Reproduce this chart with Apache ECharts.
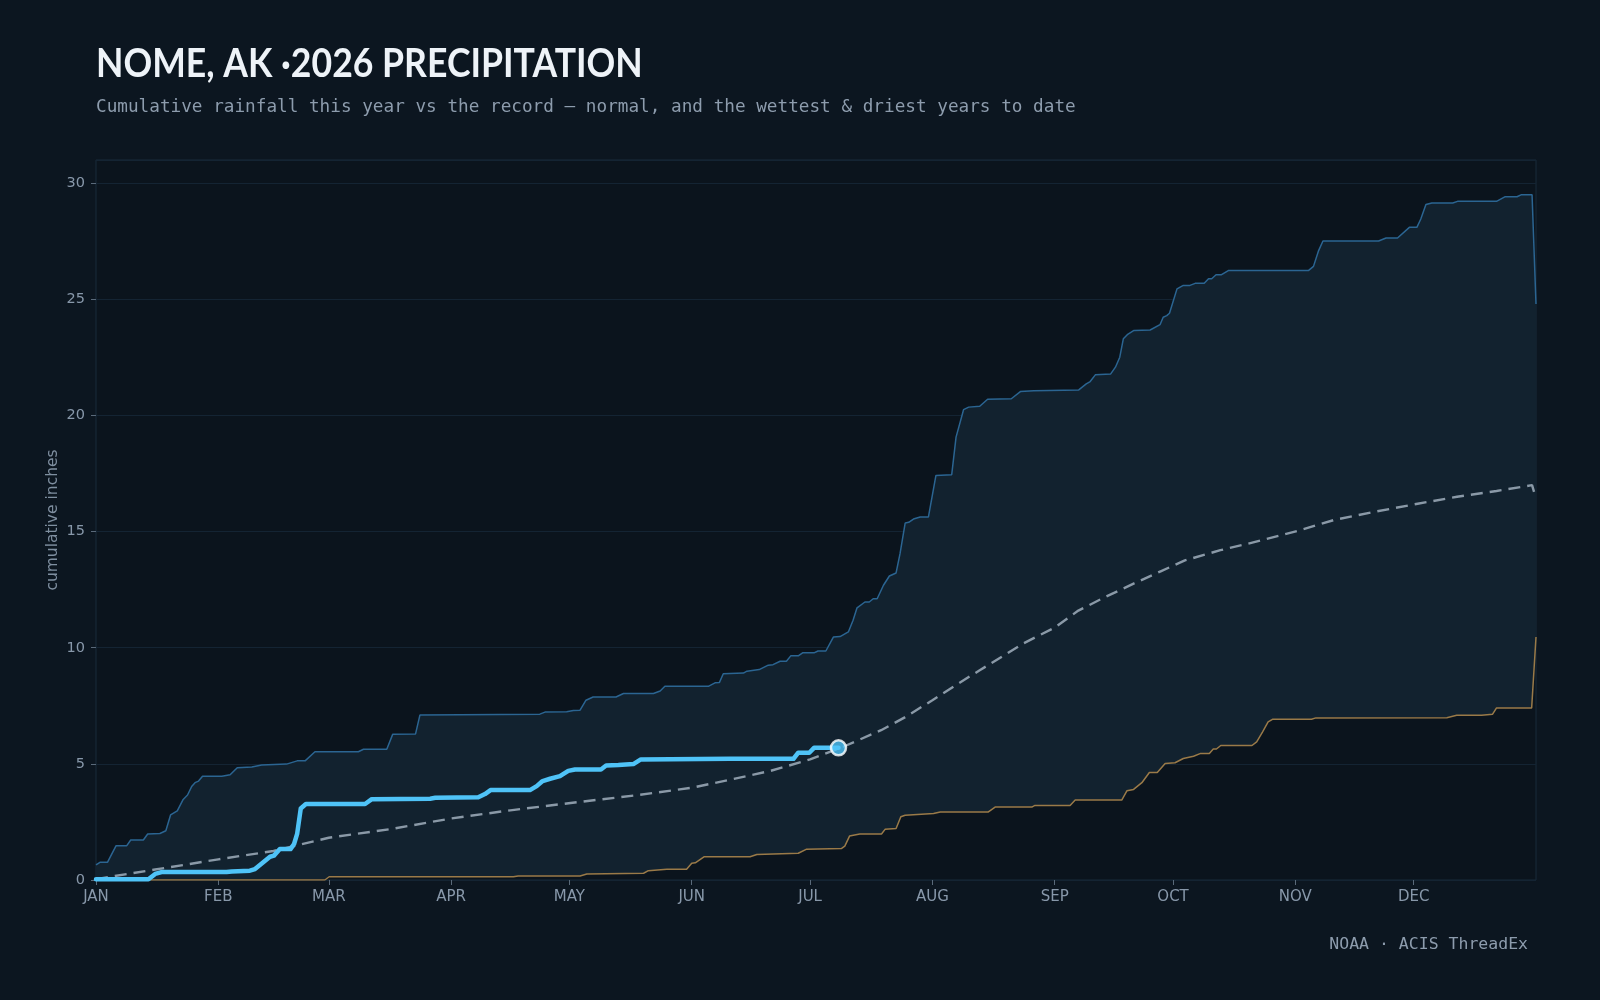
<!DOCTYPE html>
<html>
<head>
<meta charset="utf-8">
<script src="https://cdn.jsdelivr.net/npm/echarts@6/dist/echarts.min.js"></script>
<style>
  html, body { margin: 0; padding: 0; background: #0c1620; }
  #chart { width: 1600px; height: 1000px; }
</style>
</head>
<body>
<div id="chart"></div>
<script>
// day of year (0 = Jan 1) vs cumulative inches
const monthStarts = [0, 31, 59, 90, 120, 151, 181, 212, 243, 273, 304, 334];
const monthNames = ['JAN', 'FEB', 'MAR', 'APR', 'MAY', 'JUN', 'JUL', 'AUG', 'SEP', 'OCT', 'NOV', 'DEC'];

const wettest = [
  [0, 0.65], [1, 0.76], [2.9, 0.76], [5.1, 1.48], [7.8, 1.48], [8.8, 1.72], [12, 1.72], [13.1, 1.98],
  [16.2, 2.0], [17.7, 2.12], [18.9, 2.8], [20.6, 2.98], [22.1, 3.47], [23.2, 3.66], [24.3, 4.04],
  [25.1, 4.19], [26, 4.26], [27, 4.47], [31.9, 4.47], [34, 4.53], [35.8, 4.83], [39.5, 4.87], [42, 4.95],
  [48.3, 4.99], [51, 5.13], [53, 5.13], [55.5, 5.52], [66.5, 5.52], [67.8, 5.63], [73.7, 5.63],
  [75.2, 6.27], [81, 6.29], [82.1, 7.1], [112.5, 7.14], [113.8, 7.23], [119.3, 7.24], [121, 7.3],
  [122.7, 7.31], [124.2, 7.74], [126, 7.88], [131.8, 7.88], [133.7, 8.03], [141.3, 8.03], [143, 8.14],
  [144.2, 8.34], [155.2, 8.34], [156.9, 8.49], [158, 8.5], [159, 8.88], [164.1, 8.91], [165, 8.99],
  [168.1, 9.06], [170.4, 9.25], [171.6, 9.27], [173.4, 9.42], [175, 9.42], [176.1, 9.65], [178, 9.65],
  [179.1, 9.78], [182, 9.78], [183, 9.86], [185, 9.86], [186.9, 10.46], [188.6, 10.48], [190.7, 10.68],
  [191.9, 11.18], [192.9, 11.72], [194.9, 11.97], [196, 11.97], [197, 12.11], [198, 12.11],
  [199.6, 12.69], [201.1, 13.09], [202.8, 13.22], [203.8, 14.05], [205.1, 15.37], [206, 15.4],
  [207.2, 15.54], [208.9, 15.63], [211, 15.63], [212.9, 17.42], [216.9, 17.45], [218, 19.07],
  [219.9, 20.25], [221.2, 20.36], [224, 20.4], [226, 20.7], [232, 20.72], [234.3, 21.03],
  [237.7, 21.07], [249.1, 21.1], [251, 21.36], [252, 21.46], [253.3, 21.75], [257.2, 21.79],
  [258.4, 22.08], [259.5, 22.51], [260.4, 23.3], [261.4, 23.48], [263.1, 23.66], [267.2, 23.68],
  [269.7, 23.91], [270.5, 24.23], [271.4, 24.3], [272.1, 24.4], [274, 25.45], [275.6, 25.6],
  [277.3, 25.6], [278.6, 25.69], [280.9, 25.69], [282, 25.89], [282.8, 25.89], [283.9, 26.06],
  [285.3, 26.06], [287, 26.24], [307.3, 26.24], [308.6, 26.42], [309.9, 27.1], [311, 27.51],
  [325.1, 27.51], [327, 27.64], [329.9, 27.64], [332.9, 28.1], [334.8, 28.1], [335.8, 28.46],
  [337.1, 29.08], [338.6, 29.15], [343.9, 29.15], [345.1, 29.22], [355, 29.22], [357.2, 29.42],
  [360.2, 29.42], [361.2, 29.5], [364, 29.5], [365, 24.8]
];

const driest = [
  [0, 0], [58, 0], [59.1, 0.14], [105.8, 0.14], [107, 0.17], [122.7, 0.17], [124.4, 0.26],
  [138.8, 0.29], [140, 0.4], [144.7, 0.46], [149.7, 0.46], [151, 0.72], [151.9, 0.74], [154.1, 1.0],
  [165.8, 1.0], [167.5, 1.1], [178, 1.15], [180, 1.32], [189, 1.36], [189.8, 1.46], [191, 1.89],
  [193.6, 1.98], [199.1, 1.98], [200, 2.18], [202.8, 2.22], [204, 2.72], [205.1, 2.79], [212.3, 2.86],
  [214, 2.93], [226.2, 2.93], [227.9, 3.14], [237.2, 3.14], [238, 3.21], [246.9, 3.21], [248.2, 3.44],
  [260, 3.44], [261.3, 3.84], [263, 3.9], [265.1, 4.19], [267, 4.63], [269, 4.63], [271, 5.02],
  [273.5, 5.05], [275.6, 5.23], [278.2, 5.33], [280, 5.45], [282.2, 5.45], [283.2, 5.64], [284, 5.64],
  [285.1, 5.79], [293, 5.79], [294.2, 5.95], [295.7, 6.38], [297.1, 6.81], [298.2, 6.92], [308.1, 6.92],
  [309.2, 6.98], [342.4, 6.99], [344.9, 7.09], [351.2, 7.09], [354, 7.14], [355, 7.41], [363.9, 7.41],
  [365, 10.46]
];

const normal = [
  [0, 0.04], [15, 0.45], [31, 0.89], [45, 1.25], [59, 1.82], [75, 2.2], [90, 2.65], [105, 3.0],
  [122, 3.35], [137, 3.65], [151, 3.97], [161, 4.33], [171, 4.7], [181, 5.19], [190, 5.78],
  [199, 6.45], [205, 7.0], [212, 7.74], [218, 8.4], [224, 9.03], [235, 10.18], [243, 10.87],
  [249, 11.6], [256, 12.2], [263, 12.76], [270, 13.3], [276, 13.76], [285, 14.2], [292, 14.48],
  [305, 15.05], [314, 15.51], [324, 15.85], [335, 16.2], [345, 16.5], [355, 16.75], [364, 17.0],
  [365, 16.42]
];

const current = [
  [0, 0.03], [13.3, 0.03], [15, 0.26], [16.6, 0.34], [33.1, 0.34], [34.4, 0.37], [39, 0.4],
  [40.3, 0.47], [42.4, 0.76], [44.1, 1.0], [45.1, 1.05], [46.6, 1.33], [49.3, 1.33], [50.2, 1.55],
  [51, 2.0], [51.9, 3.08], [53.2, 3.27], [68.2, 3.27], [69.9, 3.48], [84.7, 3.5], [86, 3.54],
  [96.9, 3.56], [98.6, 3.7], [100, 3.87], [110, 3.87], [111.7, 4.04], [113.2, 4.26], [115.1, 4.36],
  [117.6, 4.47], [119.7, 4.7], [121.4, 4.76], [128, 4.76], [129.3, 4.93], [132.4, 4.95],
  [136.2, 4.99], [138.1, 5.19], [160.7, 5.22], [176.8, 5.22], [178, 5.48], [180.8, 5.48],
  [182, 5.69], [188.2, 5.69]
];

const chart = echarts.init(document.getElementById('chart'), null, { renderer: 'canvas' });

const sans = '"DejaVu Sans", sans-serif';
const mono = '"DejaVu Sans Mono", monospace';

chart.setOption({
  backgroundColor: '#0c1620',
  animation: false,
  graphic: [
    {
      // title squeezed a little to match the narrow display face
      type: 'text', x: 96, y: 44, scaleX: 0.89, silent: true,
      style: {
        text: 'NOME, AK ·2026 PRECIPITATION',
        fill: '#eef3f8', fontSize: 40, fontWeight: 'bold', fontFamily: 'Lato, "Noto Sans", sans-serif',
        textVerticalAlign: 'top'
      }
    }
  ],
  title: [
    {
      text: 'Cumulative rainfall this year vs the record — normal, and the wettest & driest years to date',
      left: 96, top: 98, padding: 0,
      textStyle: { color: '#8d9cad', fontSize: 17.7, fontWeight: 'normal', fontFamily: mono }
    },
    {
      text: 'NOAA · ACIS ThreadEx',
      right: 72, top: 936, padding: 0,
      textStyle: { color: '#8d9cad', fontSize: 16.5, fontWeight: 'normal', fontFamily: mono }
    }
  ],
  grid: {
    left: 96, right: 64, top: 160, bottom: 120,
    show: true, backgroundColor: '#0b141d', borderColor: '#182a3b', borderWidth: 1
  },
  xAxis: {
    type: 'value', min: 0, max: 365,
    axisLine: { show: false },
    splitLine: { show: false },
    axisTick: { show: true, length: 5, customValues: monthStarts, lineStyle: { color: '#5a6a7a' } },
    axisLabel: {
      customValues: monthStarts, margin: 10, color: '#8898aa', fontSize: 15, fontFamily: sans,
      formatter: v => monthNames[monthStarts.indexOf(v)]
    }
  },
  yAxis: {
    type: 'value', min: 0, max: 31, interval: 5,
    name: 'cumulative inches', nameLocation: 'middle', nameGap: 35, nameRotate: 90,
    nameMoveOverlap: false,
    nameTextStyle: { color: '#7f8fa0', fontSize: 15.5, fontFamily: sans },
    axisLine: { show: false },
    axisTick: { show: true, length: 5, lineStyle: { color: '#5a6a7a' } },
    axisLabel: { margin: 11, color: '#8898aa', fontSize: 14.5, fontFamily: sans, showMaxLabel: false },
    splitLine: { lineStyle: { color: '#142433', width: 1 } }
  },
  series: [
    {
      // record band between driest and wettest
      type: 'custom', silent: true, z: 1,
      data: [[0, 0]],
      renderItem: (params, api) => {
        const top = wettest.map(p => api.coord(p));
        const bottom = driest.slice().reverse().map(p => api.coord(p));
        return {
          type: 'polygon',
          shape: { points: top.concat(bottom) },
          style: { fill: '#12222f' }
        };
      }
    },
    {
      name: 'wettest', type: 'line', data: wettest, showSymbol: false, z: 3, silent: true,
      lineStyle: { color: '#2b6592', width: 1.5 }
    },
    {
      name: 'driest', type: 'line', data: driest, showSymbol: false, z: 3, silent: true,
      lineStyle: { color: '#9a7a48', width: 1.5 }
    },
    {
      name: 'normal', type: 'line', data: normal, showSymbol: false, z: 4, silent: true,
      lineStyle: { color: '#8a99a7', width: 2.4, type: [12, 7] }
    },
    {
      name: '2026', type: 'line', data: current, showSymbol: false, z: 5, silent: true,
      lineStyle: { color: '#4fc3f7', width: 4.5, join: 'round', cap: 'round' }
    },
    {
      name: 'today', type: 'scatter', data: [current[current.length - 1]], z: 6, silent: true,
      symbol: 'circle', symbolSize: 15,
      itemStyle: { color: '#4fc3f7', borderColor: '#ffffff', borderWidth: 2.5 }
    }
  ]
});
</script>
</body>
</html>
